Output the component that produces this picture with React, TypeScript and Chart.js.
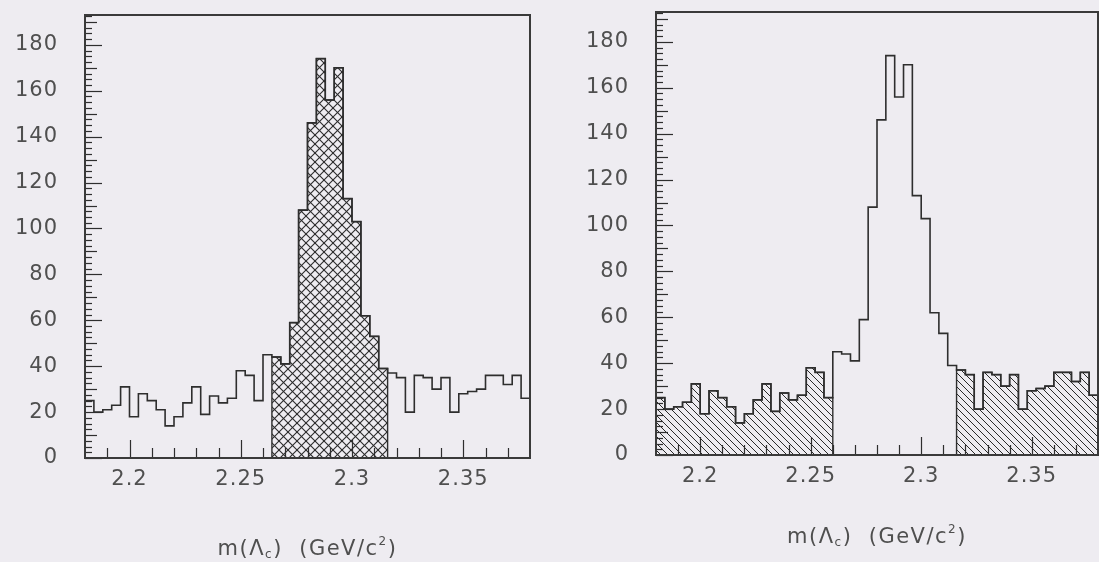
import React, { useEffect, useRef } from "react";
import { Chart, registerables } from "chart.js";

Chart.register(...registerables);

// ---- data ----
const X_MIN = 2.18;
const X_MAX = 2.38;
const BIN_W = 0.004;
const Y_MAX = 193;

// entries per 0.004 GeV/c^2 bin, m(Lambda_c) from 2.18 to 2.38
const counts = [
  25, 20, 21, 23, 31, 18, 28, 25, 21, 14,
  18, 24, 31, 19, 27, 24, 26, 38, 36, 25,
  45, 44, 41, 59, 108, 146, 174, 156, 170, 113,
  103, 62, 53, 39, 37, 35, 20, 36, 35, 30,
  35, 20, 28, 29, 30, 36, 36, 32, 36, 26,
];

const xTickValues = [2.2, 2.25, 2.3, 2.35];
const xTickLabels = ["2.2", "2.25", "2.3", "2.35"];
const yTickValues = [0, 20, 40, 60, 80, 100, 120, 140, 160, 180];
const yTickLabels = ["0", "20", "40", "60", "80", "100", "120", "140", "160", "180"];

// bin index ranges (inclusive)
const signalRanges = [[21, 33]];
const sidebandRanges = [[0, 19], [34, 49]];

const binEdges = Array.from({ length: counts.length + 1 }, (_, i) => +(X_MIN + i * BIN_W).toFixed(4));

// ---- style ----
const BG = "#eeecf1";
const LINE = "#2e2e2e";
const TEXT = "#4f4f4f";

function outlinePoints() {
  const pts = counts.map((c, i) => ({ x: binEdges[i], y: c }));
  pts.push({ x: binEdges[counts.length], y: counts[counts.length - 1] });
  return pts;
}

// step polygon for bins a..b; with "before" stepping each point is reached
// horizontally at the previous y, then vertically
function regionPoints(a: number, b: number) {
  const pts: { x: number; y: number }[] = [{ x: binEdges[a], y: 0 }, { x: binEdges[a], y: counts[a] }];
  for (let i = a + 1; i <= b; i++) pts.push({ x: binEdges[i], y: counts[i] });
  pts.push({ x: binEdges[b + 1], y: counts[b] });
  pts.push({ x: binEdges[b + 1], y: 0 });
  return pts;
}

function makePattern(kind: "cross" | "diag", target: HTMLCanvasElement) {
  const s = kind === "cross" ? 9 : 7;
  const c = document.createElement("canvas");
  c.width = s;
  c.height = s;
  const g = c.getContext("2d")!;
  g.strokeStyle = "#2a2a2a";
  g.lineWidth = kind === "cross" ? 1.1 : 1.0;
  const diag = (dx: number) => {
    g.beginPath();
    g.moveTo(dx - 1, -1);
    g.lineTo(dx + s + 1, s + 1);
    g.stroke();
  };
  const anti = (dx: number) => {
    g.beginPath();
    g.moveTo(dx - 1, s + 1);
    g.lineTo(dx + s + 1, -1);
    g.stroke();
  };
  for (const dx of [-s, 0, s]) {
    diag(dx);
    if (kind === "cross") anti(dx);
  }
  const ctx = target.getContext("2d")!;
  return ctx.createPattern(c, "repeat")!;
}

function drawTitle(ctx: CanvasRenderingContext2D, cx: number, cy: number) {
  const parts = [
    { t: "m(Λ", size: 21, dy: 0 },
    { t: "c", size: 12, dy: 5 },
    { t: ")  (GeV/c", size: 21, dy: 0 },
    { t: "2", size: 12, dy: -8 },
    { t: ")", size: 21, dy: 0 },
  ];
  (ctx as any).letterSpacing = "1.5px";
  let total = 0;
  const widths = parts.map((p) => {
    ctx.font = `${p.size}px "DejaVu Sans"`;
    const w = ctx.measureText(p.t).width;
    total += w;
    return w;
  });
  let x = cx - total / 2;
  ctx.textAlign = "left";
  ctx.textBaseline = "middle";
  parts.forEach((p, i) => {
    ctx.font = `${p.size}px "DejaVu Sans"`;
    ctx.fillText(p.t, x, cy + p.dy);
    x += widths[i];
  });
}

function framePlugin(titleY: number) {
  return {
    id: "histFrame",
    afterDatasetsDraw(chart: any) {
      const { ctx, chartArea, scales } = chart;
      const { left, right, top, bottom } = chartArea;
      const xs = scales.x;
      const ys = scales.y;
      ctx.save();
      ctx.strokeStyle = LINE;
      ctx.lineWidth = 1.2;
      // y ticks (inside)
      for (let v = 0; v <= Y_MAX; v += 2.5) {
        const py = Math.round(ys.getPixelForValue(v)) + 0.5;
        const len = v % 20 === 0 ? 17 : v % 10 === 0 ? 12 : 7;
        ctx.beginPath();
        ctx.moveTo(left, py);
        ctx.lineTo(left + len, py);
        ctx.stroke();
      }
      // x ticks (inside)
      for (let k = 1; k < Math.round((X_MAX - X_MIN) / 0.01); k++) {
        const v = X_MIN + k * 0.01;
        const px = Math.round(xs.getPixelForValue(v)) + 0.5;
        const major = xTickValues.some((t) => Math.abs(t - v) < 1e-6);
        const len = major ? 18 : 10;
        ctx.beginPath();
        ctx.moveTo(px, bottom);
        ctx.lineTo(px, bottom - len);
        ctx.stroke();
      }
      // frame
      ctx.lineWidth = 2;
      ctx.strokeStyle = "#3a3a3a";
      ctx.strokeRect(left, top, right - left, bottom - top);

      // labels
      ctx.fillStyle = TEXT;
      ctx.font = '21px "DejaVu Sans"';
      (ctx as any).letterSpacing = "1px";
      ctx.textAlign = "right";
      ctx.textBaseline = "middle";
      yTickValues.forEach((v, i) => {
        ctx.fillText(yTickLabels[i], left - 27, ys.getPixelForValue(v));
      });
      ctx.textAlign = "center";
      xTickValues.forEach((v, i) => {
        ctx.fillText(xTickLabels[i], xs.getPixelForValue(v), bottom + 22);
      });
      drawTitle(ctx, (left + right) / 2, titleY);
      ctx.restore();
    },
  };
}

type PanelProps = {
  pageLeft: number;
  width: number;
  pad: { left: number; right: number; top: number; bottom: number };
  mode: "signal" | "sideband";
  titleY: number;
};

function HistPanel({ pageLeft, width, pad, mode, titleY }: PanelProps) {
  const ref = useRef<HTMLCanvasElement>(null);
  useEffect(() => {
    const canvas = ref.current!;
    const pattern = makePattern(mode === "signal" ? "cross" : "diag", canvas);
    const ranges = mode === "signal" ? signalRanges : sidebandRanges;
    const hatchSets = ranges.map(([a, b]) => ({
      data: regionPoints(a, b),
      stepped: "before" as const,
      fill: "origin",
      backgroundColor: pattern,
      borderColor: LINE,
      borderWidth: 1.4,
      pointRadius: 0,
    }));
    const outline = {
      data: outlinePoints(),
      stepped: "before" as const,
      fill: false,
      borderColor: LINE,
      borderWidth: 1.6,
      pointRadius: 0,
    };
    const chart = new Chart(canvas, {
      type: "line",
      data: { datasets: [...hatchSets, outline] as any },
      options: {
        animation: false,
        responsive: false,
        devicePixelRatio: 1,
        layout: { padding: pad },
        scales: {
          x: { type: "linear", min: X_MIN, max: X_MAX, display: false },
          y: { type: "linear", min: 0, max: Y_MAX, display: false },
        },
        plugins: { legend: { display: false }, tooltip: { enabled: false } },
        elements: { line: { tension: 0 } },
      },
      plugins: [framePlugin(titleY)],
    });
    return () => chart.destroy();
  }, []);
  return (
    <canvas
      ref={ref}
      width={width}
      height={562}
      style={{ position: "absolute", left: pageLeft, top: 0, width, height: 562 }}
    />
  );
}

export default function App() {
  return (
    <div style={{ position: "fixed", left: 0, top: 0, width: 1099, height: 562, background: BG, overflow: "hidden" }}>
      <HistPanel
        pageLeft={0}
        width={549}
        pad={{ left: 85, right: 19, top: 15, bottom: 104 }}
        mode="signal"
        titleY={550}
      />
      <HistPanel
        pageLeft={549}
        width={550}
        pad={{ left: 107, right: 1, top: 12, bottom: 107 }}
        mode="sideband"
        titleY={538}
      />
    </div>
  );
}
